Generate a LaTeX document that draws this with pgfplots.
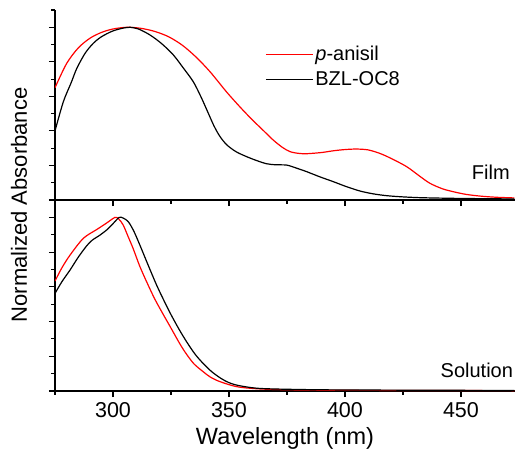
\documentclass[border=0pt]{standalone}
\usepackage{fontspec}
\setmainfont{Liberation Sans}
\usepackage{pgfplots}
\pgfplotsset{compat=1.18}

\pgfplotsset{
  panel/.style={
    scale only axis, width=460pt,
    xmin=275, xmax=473.3, ymin=0, ymax=1.1,
    axis x line*=bottom, axis y line*=left,
    axis line style={line width=1.1pt},
    every tick/.style={line width=1.1pt, black},
    tick align=outside,
    major tick length=6pt, minor tick length=3.5pt,
    xtick={300,350,400,450}, minor xtick={275,325,375,425},
    ytick={0,0.2,0.4,0.6,0.8,1.0}, minor ytick={0.1,0.3,0.5,0.7,0.9,1.1},
    yticklabels={},
    /pgf/number format/assume math mode=true,
    tick label style={font=\fontsize{21.5}{25}\selectfont},
    xticklabel style={yshift=-2pt},
    every axis plot/.append style={line width=1.2pt, smooth},
  }
}

\begin{document}
\begin{tikzpicture}
\useasboundingbox (-55pt,-65pt) rectangle (460pt,391pt);

% solution panel
\begin{axis}[panel, height=191pt,
    xlabel={Wavelength (nm)},
    xlabel style={font=\fontsize{23.5}{27}\selectfont, yshift=-3pt},
  ]
  \addplot[red] coordinates {
    (275,0.633) (278,0.71) (281.5,0.783) (287.2,0.879) (293,0.93) (297,0.965)
    (300.9,1.0) (302.5,0.99) (304.4,0.956) (306.5,0.89) (308.7,0.82) (311.5,0.72)
    (314.5,0.629) (318,0.53) (321.7,0.44) (324.6,0.372) (328.9,0.27) (331.8,0.21)
    (335,0.155) (338.9,0.111) (342,0.08) (346.1,0.054) (353.3,0.025) (362,0.013)
    (375,0.007) (400,0.004) (473,0.002)};
  \addplot[black] coordinates {
    (275,0.562) (278,0.63) (281.5,0.697) (285,0.77) (288.6,0.835) (291,0.868)
    (294.4,0.898) (297.5,0.93) (300.1,0.965) (302.7,1.0) (304.5,0.995) (306.6,0.975)
    (309,0.92) (311.6,0.84) (315,0.73) (318.8,0.61) (322,0.52) (325,0.44)
    (328.5,0.355) (332,0.278) (335.5,0.21) (339,0.157) (342.5,0.112) (346.5,0.073)
    (350,0.048) (354,0.032) (362,0.016) (375,0.01) (400,0.006) (473,0.003)};
  \node[anchor=east, inner sep=0pt, font=\fontsize{20}{24}\selectfont]
    at (axis description cs:0.996,0.11) {Solution};
\end{axis}

% film panel
\begin{axis}[panel, height=190pt, at={(0,191pt)}, anchor=south west,
    xticklabels={},
    legend style={draw=none, fill=none, at={(axis description cs:0.4565,0.82)},
      anchor=north west, font=\fontsize{20}{24}\selectfont,
      row sep=5pt, inner sep=0pt, cells={anchor=west}},
    legend image code/.code={\draw[#1, sharp plot] (0pt,0pt) -- (47pt,0pt);},
  ]
  \addplot[red] coordinates {
    (275,0.65) (280,0.79) (285,0.88) (290,0.936) (295,0.97) (300,0.99) (306,1.0)
    (312,0.994) (318,0.976) (324,0.945) (330,0.895) (336,0.825) (342,0.74)
    (349,0.625) (355,0.535) (360,0.465) (365,0.4) (369,0.348) (373,0.305)
    (376.3,0.28) (380,0.27) (383.5,0.268) (390,0.275) (395,0.285) (400,0.292)
    (405,0.295) (410,0.29) (415,0.27) (420,0.24) (426.6,0.193) (432,0.14)
    (436.6,0.097) (442,0.065) (446.7,0.048) (452,0.033) (458,0.023) (465,0.016)
    (473,0.012)};
  \addlegendentry{\textit{p}-anisil}
  \addplot[black] coordinates {
    (275,0.40) (278.6,0.569) (282,0.68) (284.4,0.762) (288,0.85) (291.5,0.907)
    (295,0.945) (300,0.979) (305,0.997) (307.3,1.0) (311,0.99) (316,0.955)
    (321,0.905) (326,0.84) (330,0.77) (334.6,0.685) (338,0.595) (341,0.505)
    (343.5,0.43) (346,0.37) (349,0.32) (353,0.28) (357.6,0.251) (362,0.228)
    (366.2,0.21) (370,0.204) (374.9,0.202) (379,0.185) (383.5,0.164) (389,0.135)
    (395,0.106) (400.7,0.077) (406.5,0.052) (412,0.036) (418,0.025) (425,0.018)
    (433.6,0.013) (450,0.009) (473,0.006)};
  \addlegendentry{BZL-OC8}
  \node[anchor=east, inner sep=0pt, font=\fontsize{20}{24}\selectfont]
    at (axis description cs:0.989,0.147) {Film};
\end{axis}

\node[rotate=90, font=\fontsize{22}{26}\selectfont] at (-36pt,186pt) {Normalized Absorbance};
\end{tikzpicture}
\end{document}
